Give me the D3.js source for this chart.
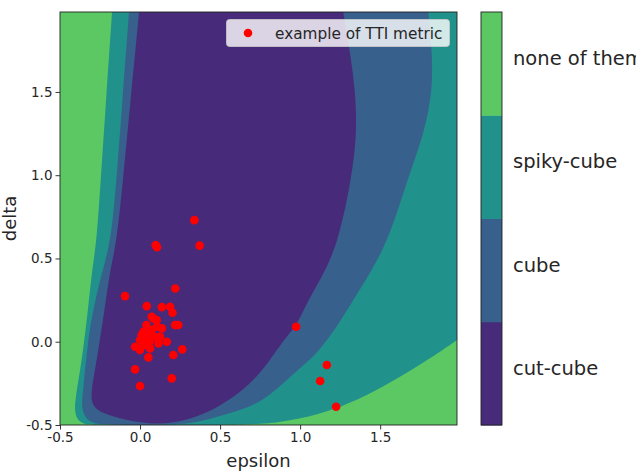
<!DOCTYPE html>
<html>
<head>
<meta charset="utf-8">
<script src="https://cdn.jsdelivr.net/npm/d3@7"></script>
<style>
  html, body { margin: 0; padding: 0; background: #ffffff; }
  svg { display: block; font-family: "DejaVu Sans", sans-serif; }
</style>
</head>
<body>
<svg id="chart" width="636" height="473"></svg>
<script>
// ---------------- data ----------------
const xTicks = [-0.5, 0.0, 0.5, 1.0, 1.5];
const yTicks = [-0.5, 0.0, 0.5, 1.0, 1.5];
const xDomain = [-0.5, 1.98];
const yDomain = [-0.5, 1.98];

const classLabels = ["cut-cube", "cube", "spiky-cube", "none of them"];
const classColors = ["#472a7a", "#38608c", "#21918c", "#5cc863"];

// region boundaries, [epsilon, delta]
const spikyBoundary = [
  [-0.175, 1.98], [-0.212, 1.45], [-0.244, 1.0], [-0.27, 0.61], [-0.30, 0.43],
  [-0.325, 0.19], [-0.363, -0.11], [-0.406, -0.35], [-0.408, -0.42],
  [-0.392, -0.47], [-0.35, -0.495], [-0.3125, -0.5], [0.0, -0.5], [0.75, -0.5],
  [0.894, -0.48], [1.106, -0.44], [1.3125, -0.37], [1.519, -0.27],
  [1.731, -0.15], [1.875, -0.06], [1.98, 0.01]
];
const spikyCorners = [[1.98, 1.98]];

const cubeBoundary = [
  [-0.069, 1.98], [-0.11, 1.45], [-0.145, 1.0], [-0.18, 0.61], [-0.235, 0.43],
  [-0.294, 0.19], [-0.325, 0.01], [-0.356, -0.29], [-0.366, -0.39],
  [-0.345, -0.46], [-0.29, -0.49], [-0.219, -0.5], [0.25, -0.5],
  [0.375, -0.48], [0.5625, -0.43], [0.75, -0.37], [0.894, -0.25],
  [1.019, -0.14], [1.106, -0.07], [1.231, 0.09], [1.331, 0.25], [1.45, 0.43],
  [1.5625, 0.64], [1.669, 0.97], [1.76, 1.21], [1.82, 1.45], [1.83, 1.69],
  [1.80, 1.98]
];

const cutBoundary = [
  [-0.006, 1.98], [-0.059, 1.45], [-0.104, 1.0], [-0.144, 0.61], [-0.1875, 0.43],
  [-0.222, 0.19], [-0.27, -0.11], [-0.305, -0.29], [-0.305, -0.38],
  [-0.24, -0.43], [-0.094, -0.47], [0.106, -0.5], [0.281, -0.475],
  [0.4375, -0.42], [0.594, -0.33], [0.75, -0.20], [0.894, 0.01], [0.975, 0.09],
  [1.05, 0.25], [1.125, 0.37], [1.231, 0.57], [1.32, 0.97], [1.355, 1.25],
  [1.345, 1.51], [1.31, 1.75], [1.269, 1.98]
];

// example points of the TTI metric
const ttiEpsilon = [
  0.339, 0.098, 0.106, 0.372, 0.22, -0.094, 0.042, 0.136, 0.1875, 0.203,
  0.073, 0.219, 0.239, 0.264, 0.208, 0.052, -0.031, 0.198, 0.0,
  0.021, 0.0, -0.031, 0.042, 0.073, 0.104, 0.125, 0.167, 0.083, 0.104,
  0.136, 0.01, 0.0625, 0.115, 0.03, 0.05, 0.0, 0.02, 0.06, 0.09, 0.04,
  0.975, 1.167, 1.125, 1.225
];
const ttiDelta = [
  0.73, 0.58, 0.568, 0.577, 0.32, 0.274, 0.214, 0.208, 0.21, 0.174,
  0.15, 0.1, 0.1, -0.046, -0.08, -0.094, -0.166, -0.22, -0.266,
  0.06, 0.01, -0.03, -0.02, 0.07, 0.09, 0.03, 0.0, 0.14, 0.13,
  0.08, 0.04, -0.04, -0.01, 0.02, 0.05, -0.05, -0.02, 0.0, 0.03, 0.1,
  0.09, -0.14, -0.236, -0.39
];
const legendLabel = "example of TTI metric";

// ---------------- layout ----------------
const svg = d3.select("#chart");
const plot = { left: 60, right: 457, top: 12, bottom: 425 };
const x = d3.scaleLinear().domain(xDomain).range([plot.left, plot.right]);
const y = d3.scaleLinear().domain(yDomain).range([plot.bottom, plot.top]);

svg.append("defs").append("clipPath").attr("id", "plotclip")
  .append("rect")
  .attr("x", plot.left).attr("y", plot.top)
  .attr("width", plot.right - plot.left).attr("height", plot.bottom - plot.top);

const g = svg.append("g").attr("clip-path", "url(#plotclip)");

// background = "none of them"
g.append("rect")
  .attr("x", x(xDomain[0])).attr("y", y(yDomain[1]))
  .attr("width", x(xDomain[1]) - x(xDomain[0]))
  .attr("height", y(yDomain[0]) - y(yDomain[1]))
  .attr("fill", classColors[3]);

const curve = d3.line().x(d => x(d[0])).y(d => y(d[1])).curve(d3.curveBasis);
function regionPath(boundary, corners) {
  let p = curve(boundary);
  (corners || []).forEach(c => { p += "L" + x(c[0]) + "," + y(c[1]); });
  return p + "Z";
}

g.append("path").attr("d", regionPath(spikyBoundary, spikyCorners)).attr("fill", classColors[2]);
g.append("path").attr("d", regionPath(cubeBoundary)).attr("fill", classColors[1]);
g.append("path").attr("d", regionPath(cutBoundary)).attr("fill", classColors[0]);

// points
g.selectAll("circle.pt").data(d3.range(ttiEpsilon.length)).enter()
  .append("circle").attr("class", "pt")
  .attr("cx", i => x(ttiEpsilon[i]))
  .attr("cy", i => y(ttiDelta[i]))
  .attr("r", 4.3)
  .attr("fill", "#ff0000");

// frame
svg.append("rect")
  .attr("x", plot.left).attr("y", plot.top)
  .attr("width", plot.right - plot.left).attr("height", plot.bottom - plot.top)
  .attr("fill", "none").attr("stroke", "#222").attr("stroke-width", 0.9);

// axes
const fmt = d3.format(".1f");
const xAxis = d3.axisBottom(x).tickValues(xTicks).tickSize(4.5).tickPadding(3).tickFormat(d => fmt(d).replace("−", "-"));
const yAxis = d3.axisLeft(y).tickValues(yTicks).tickSize(4.5).tickPadding(3).tickFormat(d => fmt(d).replace("−", "-"));

const gx = svg.append("g").attr("transform", `translate(0,${plot.bottom})`).call(xAxis);
const gy = svg.append("g").attr("transform", `translate(${plot.left},0)`).call(yAxis);
[gx, gy].forEach(ax => {
  ax.select(".domain").remove();
  ax.selectAll(".tick line").attr("stroke", "#222").attr("stroke-width", 0.9);
  ax.selectAll(".tick text").attr("fill", "#262626")
    .style("font-size", "13.5px").style("font-family", "DejaVu Sans, sans-serif");
});

svg.append("text").attr("x", (plot.left + plot.right) / 2).attr("y", 467)
  .attr("text-anchor", "middle").attr("fill", "#262626")
  .style("font-size", "18px").text("epsilon");
svg.append("text")
  .attr("transform", `translate(16,${(plot.top + plot.bottom) / 2}) rotate(-90)`)
  .attr("text-anchor", "middle").attr("fill", "#262626")
  .style("font-size", "18px").text("delta");

// legend
const lg = svg.append("g");
lg.append("rect").attr("x", 226.5).attr("y", 19.5).attr("width", 223).attr("height", 27)
  .attr("rx", 3).attr("fill", "rgba(255,255,255,0.8)").attr("stroke", "rgba(204,204,204,0.8)");
lg.append("circle").attr("cx", 248).attr("cy", 33).attr("r", 4.3).attr("fill", "#ff0000");
lg.append("text").attr("x", 275).attr("y", 38.5).attr("fill", "#262626")
  .style("font-size", "15.3px").text(legendLabel);

// colorbar
const cb = { left: 481, right: 502, top: 12, bottom: 425 };
const cbScale = d3.scaleBand().domain(d3.range(classLabels.length).reverse())
  .range([cb.top, cb.bottom]).padding(0);
const cbg = svg.append("g");
cbg.selectAll("rect.band").data(d3.range(classLabels.length)).enter()
  .append("rect").attr("class", "band")
  .attr("x", cb.left).attr("width", cb.right - cb.left)
  .attr("y", i => cbScale(i)).attr("height", cbScale.bandwidth() + 0.5)
  .attr("fill", i => classColors[i]);
cbg.append("rect").attr("x", cb.left).attr("y", cb.top)
  .attr("width", cb.right - cb.left).attr("height", cb.bottom - cb.top)
  .attr("fill", "none").attr("stroke", "#222").attr("stroke-width", 0.9);
cbg.selectAll("text.cl").data(d3.range(classLabels.length)).enter()
  .append("text").attr("class", "cl")
  .attr("x", 513).attr("y", i => cbScale(i) + cbScale.bandwidth() / 2 + 1.5)
  .attr("fill", "#262626").style("font-size", "19.5px")
  .text(i => classLabels[i]);
</script>
</body>
</html>
